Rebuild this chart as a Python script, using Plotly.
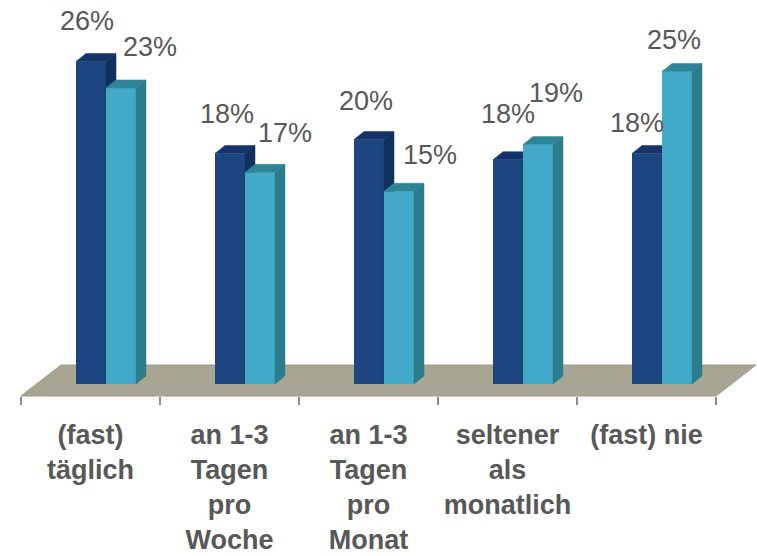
import plotly.graph_objects as go

categories = ["(fast)<br>täglich", "an 1-3<br>Tagen<br>pro<br>Woche", "an 1-3<br>Tagen<br>pro<br>Monat",
              "seltener<br>als<br>monatlich", "(fast) nie"]
series_dark = [25.6, 18.3, 19.4, 17.8, 18.3]
series_light = [23.5, 16.8, 15.3, 19.0, 24.8]
labels_dark = ["26%", "18%", "20%", "18%", "18%"]
labels_light = ["23%", "17%", "15%", "19%", "25%"]

W, H = 757, 556
PX_X, PX_Y = 139.0, 12.6          # pixels per category / per percent
X0_PX, Y0_PX = 90.5, 384.0        # position of category 0 / value 0
X_RANGE = [-X0_PX / PX_X, (W - X0_PX) / PX_X]
Y_RANGE = [-(H - Y0_PX) / PX_Y, Y0_PX / PX_Y]

BAR_W = 30 / PX_X
DX, DY = 10 / PX_X, 8 / PX_Y
idx = list(range(len(categories)))
FONT = "Liberation Sans, Arial, sans-serif"
TEXT = "#585858"

fig = go.Figure()

# floor
fl, fr = -0.5, len(categories) - 0.5
fd = -12 / PX_Y
bd = 19 / PX_Y
skew = 40 / PX_X
fig.add_trace(go.Scatter(x=[fl, fl + skew, fr + skew, fr, fl], y=[fd, bd, bd, fd, fd],
                         mode="lines", fill="toself", fillcolor="#a8a593",
                         line=dict(color="#9c9a8c", width=1), hoverinfo="skip", showlegend=False))


def add_series(vals, offset, front, top, side, xa, ya, name):
    fig.add_trace(go.Bar(x=idx, y=vals, width=BAR_W, offset=offset, base=0, name=name,
                         marker=dict(color=front, line=dict(width=0)),
                         xaxis=xa, yaxis=ya, showlegend=False))
    for i, v in zip(idx, vals):
        l, r = i + offset, i + offset + BAR_W
        fig.add_trace(go.Scatter(x=[l, l + DX, r + DX, r, l], y=[v, v + DY, v + DY, v, v],
                                 mode="lines", fill="toself", fillcolor=top, line=dict(color=top, width=0.5),
                                 xaxis=xa, yaxis=ya, hoverinfo="skip", showlegend=False))
        fig.add_trace(go.Scatter(x=[r, r + DX, r + DX, r, r], y=[0, DY, v + DY, v, 0],
                                 mode="lines", fill="toself", fillcolor=side, line=dict(color=side, width=0.5),
                                 xaxis=xa, yaxis=ya, hoverinfo="skip", showlegend=False))


add_series(series_dark, -14.5 / PX_X, "#1d4680", "#13336a", "#10305e", "x2", "y2", "dunkel")
add_series(series_light, 15.5 / PX_X, "#43a9c8", "#2f8598", "#2d7c8c", "x3", "y3", "hell")

# percent labels: pixel nudges from the top of each bar
dark_x_shift = [-3.5, -2.5, -2.5, 0.5, -9.5]
dark_y_shift = [40, 39, 39, 46, 30]
light_x_shift = [29.5, 25.5, 31.5, 18.5, -2.5]
light_y_shift = [41, 39, 36, 52, 31.5]
for i in idx:
    fig.add_annotation(x=i, y=series_dark[i], text=labels_dark[i], showarrow=False,
                       xshift=dark_x_shift[i], yshift=dark_y_shift[i],
                       font=dict(family=FONT, size=27, color=TEXT), xref="x", yref="y")
    fig.add_annotation(x=i + 30 / PX_X, y=series_light[i], text=labels_light[i], showarrow=False,
                       xshift=light_x_shift[i], yshift=light_y_shift[i],
                       font=dict(family=FONT, size=27, color=TEXT), xref="x", yref="y")

fig.update_layout(
    margin=dict(l=0, r=0, t=0, b=0), width=W, height=H, autosize=False,
    paper_bgcolor="white", plot_bgcolor="rgba(0,0,0,0)", barmode="overlay", showlegend=False,
    xaxis=dict(range=X_RANGE, anchor="free", position=(H - 396) / H, tickmode="array", tickvals=idx,
               ticktext=categories, ticks="", showgrid=False, zeroline=False, showline=False,
               tickangle=0, tickfont=dict(family=FONT, size=27, color=TEXT, weight=700), ticklabelstandoff=20,
               minor=dict(tickmode="array", tickvals=[i - 0.5 for i in range(len(categories) + 1)],
                          ticks="outside", ticklen=8, tickcolor="#8a8a8a", tickwidth=1.5, showgrid=False)),
    yaxis=dict(range=Y_RANGE, visible=False),
    xaxis2=dict(range=X_RANGE, overlaying="x", visible=False),
    yaxis2=dict(range=Y_RANGE, overlaying="y", visible=False, anchor="x2"),
    xaxis3=dict(range=X_RANGE, overlaying="x", visible=False),
    yaxis3=dict(range=Y_RANGE, overlaying="y", visible=False, anchor="x3"),
)

fig.write_html("out.html", config={"displayModeBar": False},
               post_script="document.body.style.margin='0';document.documentElement.style.overflow='hidden';")
